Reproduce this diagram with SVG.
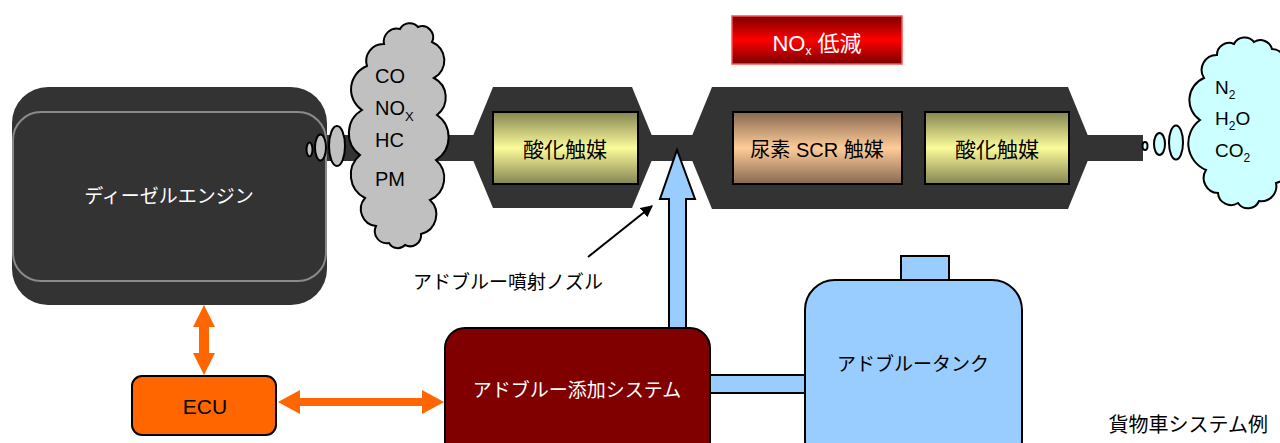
<svg xmlns="http://www.w3.org/2000/svg" width="1280" height="443" viewBox="0 0 1280 443">
  <defs>
    <linearGradient id="gOx" x1="0" y1="0" x2="0" y2="1">
      <stop offset="0" stop-color="#858552"/>
      <stop offset="0.5" stop-color="#fbfb9a"/>
      <stop offset="1" stop-color="#858552"/>
    </linearGradient>
    <linearGradient id="gScr" x1="0" y1="0" x2="0" y2="1">
      <stop offset="0" stop-color="#86684f"/>
      <stop offset="0.5" stop-color="#ffcc99"/>
      <stop offset="1" stop-color="#86684f"/>
    </linearGradient>
    <linearGradient id="gRed" x1="0" y1="0" x2="0" y2="1">
      <stop offset="0" stop-color="#7a0000"/>
      <stop offset="0.5" stop-color="#ff0000"/>
      <stop offset="1" stop-color="#7a0000"/>
    </linearGradient>
    <marker id="mBlack" viewBox="0 0 10 10" refX="9" refY="5" markerWidth="6" markerHeight="6" orient="auto" markerUnits="strokeWidth">
      <path d="M0,0 L10,5 L0,10 z" fill="#000"/>
    </marker>
  </defs>
  <style>
    .jp { font-family: "Noto Sans CJK JP", "Liberation Sans", sans-serif; }
    .lt { font-family: "Liberation Sans", "Noto Sans CJK JP", sans-serif; }
    .dark { fill: #333333; }
    .cat { stroke: #000; stroke-width: 2; }
    .outl { stroke: #000; stroke-width: 2; }
    .gray { fill: #c0c0c0; stroke: #000; stroke-width: 2; }
    .cyan { fill: #ccffff; stroke: #000; stroke-width: 2; }
    .blue { fill: #99ccff; stroke: #000; stroke-width: 2; }
    .orange { fill: #ff6600; }
  </style>

  <!-- exhaust pipe and catalyst housings -->
  <g id="exhaust-line">
    <rect class="dark" x="320" y="135" width="823" height="26"/>
    <polygon class="dark" points="493,87 632,87 657,148 632,208 493,208 468,148"/>
    <polygon class="dark" points="712,87 1068,87 1093,148 1068,209 712,209 687,148"/>
  </g>

  <!-- connectors -->
  <g id="connectors">
    <!-- engine <-> ECU -->
    <polygon class="orange" points="204,305 215,327 209,327 209,353 215,353 204,375 193,353 199,353 199,327 193,327"/>
    <!-- ECU <-> dosing system -->
    <polygon class="orange" points="278,402 300,390 300,398 422,398 422,390 444,402 422,414 422,406 300,406 300,414"/>
    <!-- tank -> dosing system feed -->
    <rect class="blue" x="705" y="375" width="104" height="18"/>
    <!-- dosing system -> injector -->
    <polygon class="blue" points="669,335 669,199 660,199 677,150 695,199 686,199 686,335"/>
    <!-- injector callout -->
    <line x1="588" y1="257" x2="652" y2="206" stroke="#000" stroke-width="2" marker-end="url(#mBlack)"/>
  </g>

  <!-- diesel engine -->
  <g id="engine">
    <rect class="dark" x="12" y="87" width="315" height="218" rx="36"/>
    <rect x="13" y="112" width="313" height="169" rx="28" fill="none" stroke="#8a8a8a" stroke-width="2"/>
    <text class="jp" x="169" y="203" font-size="19" fill="#fff" text-anchor="middle">ディーゼルエンジン</text>
  </g>

  <!-- raw exhaust cloud -->
  <g id="raw-exhaust">
    <ellipse class="gray" cx="309.5" cy="149.5" rx="3" ry="7"/>
    <ellipse class="gray" cx="320.5" cy="147.5" rx="5.5" ry="13"/>
    <ellipse class="gray" cx="337" cy="146" rx="8" ry="20"/>
    <path class="gray" d="M362,110 A25,25 0 0 1 367,66 A17,17 0 0 1 384,44 A13,13 0 0 1 400,29 A11,11 0 0 1 418,27 A11,11 0 0 1 432,42 A20,20 0 0 1 434,78 A22,22 0 0 1 437,115 A27,27 0 0 1 436,160 A24,24 0 0 1 430,200 A20,20 0 0 1 421,234 A11,11 0 0 1 405,245 A10,10 0 0 1 389,243 A12,12 0 0 1 376,226 A17,17 0 0 1 365,198 A26,26 0 0 1 360,155 A27,27 0 0 1 362,110 Z"/>
    <g class="lt" font-size="20" fill="#000">
      <text x="375" y="83">CO</text>
      <text x="375" y="115">NO<tspan font-size="13" dy="6">X</tspan></text>
      <text x="375" y="147">HC</text>
      <text x="375" y="186">PM</text>
    </g>
  </g>

  <!-- oxidation catalyst (front) -->
  <g id="doc-front">
    <rect class="cat" x="493" y="112" width="145" height="72" fill="url(#gOx)"/>
    <text class="jp" x="565" y="157" font-size="21" fill="#000" text-anchor="middle">酸化触媒</text>
  </g>

  <!-- SCR catalyst -->
  <g id="scr">
    <rect class="cat" x="733" y="112" width="169" height="72" fill="url(#gScr)"/>
    <text class="lt" x="817" y="157" font-size="20" fill="#000" text-anchor="middle">尿素 SCR 触媒</text>
  </g>

  <!-- oxidation catalyst (rear) -->
  <g id="doc-rear">
    <rect class="cat" x="925" y="112" width="144" height="72" fill="url(#gOx)"/>
    <text class="jp" x="997" y="157" font-size="21" fill="#000" text-anchor="middle">酸化触媒</text>
  </g>

  <!-- NOx reduction badge -->
  <g id="nox-badge">
    <rect x="732" y="16" width="170" height="48" fill="url(#gRed)" stroke="#ff5050" stroke-width="1.5"/>
    <text class="lt" x="817" y="51" font-size="22" fill="#fff" text-anchor="middle">NO<tspan font-size="12" dy="4">x</tspan><tspan dy="-4"> 低減</tspan></text>
  </g>

  <!-- clean exhaust cloud -->
  <g id="clean-exhaust">
    <ellipse class="cyan" cx="1145" cy="146" rx="2.5" ry="4"/>
    <ellipse class="cyan" cx="1159.5" cy="144" rx="5.5" ry="11"/>
    <ellipse class="cyan" cx="1176" cy="142.5" rx="7" ry="17"/>
    <path class="cyan" d="M1200,120 A24,24 0 0 1 1204,78 A15,15 0 0 1 1217,55 A12,12 0 0 1 1234,44 A12,12 0 0 1 1254,42 A12,12 0 0 1 1272,49 A13,13 0 0 1 1282,70 A23,23 0 0 1 1285,110 A24,24 0 0 1 1284,150 A19,19 0 0 1 1276,183 A15,15 0 0 1 1259,201 A12,12 0 0 1 1238,203 A13,13 0 0 1 1218,193 A15,15 0 0 1 1206,170 A29,29 0 0 1 1200,120 Z"/>
    <g class="lt" font-size="19" fill="#000">
      <text x="1215" y="94">N<tspan font-size="12" dy="5">2</tspan></text>
      <text x="1215" y="125">H<tspan font-size="12" dy="5">2</tspan><tspan dy="-5">O</tspan></text>
      <text x="1215" y="157">CO<tspan font-size="12" dy="5">2</tspan></text>
    </g>
  </g>

  <!-- injector label -->
  <g id="injector-label">
    <text class="jp" x="413" y="289" font-size="19" fill="#000">アドブルー噴射ノズル</text>
  </g>

  <!-- ECU -->
  <g id="ecu">
    <rect class="outl orange" x="132" y="376" width="144" height="59" rx="10"/>
    <text class="lt" x="205" y="414" font-size="21" fill="#000" text-anchor="middle">ECU</text>
  </g>

  <!-- AdBlue dosing system -->
  <g id="dosing-system">
    <rect class="outl" x="445" y="328" width="265" height="135" rx="20" fill="#800000"/>
    <text class="jp" x="577" y="397" font-size="19" fill="#fff" text-anchor="middle">アドブルー添加システム</text>
  </g>

  <!-- AdBlue tank -->
  <g id="tank">
    <rect class="blue" x="901" y="256" width="48" height="26"/>
    <rect class="blue" x="805" y="280" width="217" height="190" rx="30"/>
    <text class="jp" x="913" y="371" font-size="19" fill="#000" text-anchor="middle">アドブルータンク</text>
  </g>

  <!-- caption -->
  <text class="jp" x="1268" y="432" font-size="20" fill="#000" text-anchor="end">貨物車システム例</text>
</svg>
